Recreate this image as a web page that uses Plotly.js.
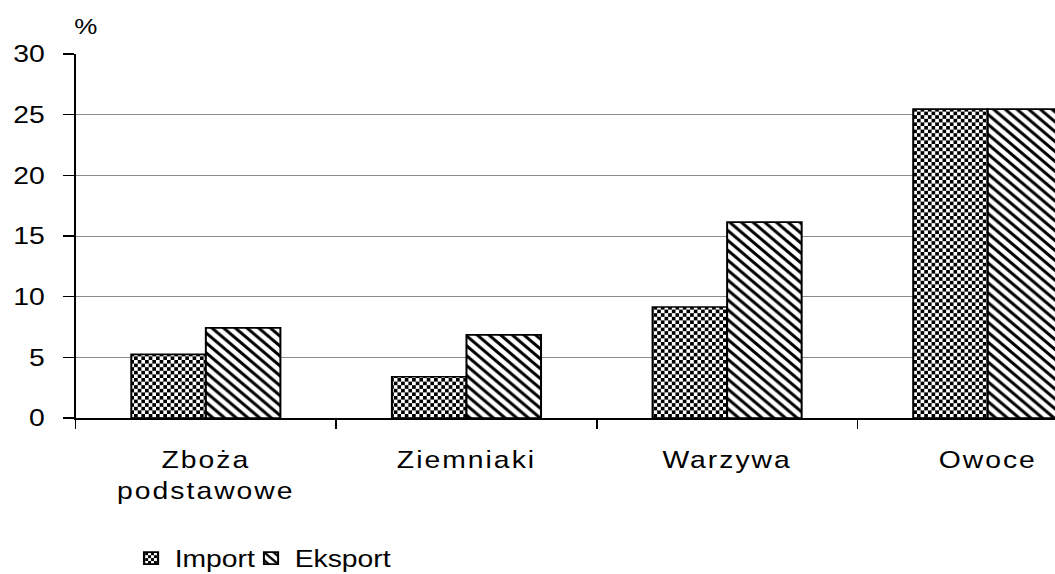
<!DOCTYPE html>
<html><head><meta charset="utf-8">
<script src="https://cdn.plot.ly/plotly-3.0.1.min.js"></script>
<style>
html,body{margin:0;padding:0;overflow:hidden;background:#fff}
#chart{width:894px;height:574px;transform:scaleX(1.18009);transform-origin:0 0}
#chart .xtick text{letter-spacing:1.7px}
</style>
</head><body><div id="chart"></div>
<script>
const categories = ['Zboża<br>podstawowe', 'Ziemniaki', 'Warzywa', 'Owoce'];
const importValues = [5.25, 3.4, 9.15, 25.45];
const eksportValues = [7.42, 6.85, 16.15, 25.45];
const seriesNames = ['Import', 'Eksport'];
const yTicks = [0, 5, 10, 15, 20, 25, 30];
const unitLabel = '%';

const FONT = 'Liberation Sans, Arial, sans-serif';

const traces = [
  {
    type: 'bar', name: seriesNames[0], x: categories, y: importValues, legend: 'legend',
    marker: {
      color: 'white',
      line: {color: 'black', width: 1.7},
      pattern: {shape: '.', fgcolor: 'black', bgcolor: 'white', size: 6, solidity: 0.5, fillmode: 'replace'}
    }
  },
  {
    type: 'bar', name: seriesNames[1], x: categories, y: eksportValues, legend: 'legend2',
    marker: {
      color: 'white',
      line: {color: 'black', width: 1.7},
      pattern: {shape: '\\', fgcolor: 'black', bgcolor: 'white', size: 7, solidity: 0.4, fillmode: 'replace'}
    }
  }
];

const legendBase = {orientation: 'h', xanchor: 'left', y: -0.386, yanchor: 'middle',
  font: {family: FONT, size: 24, color: 'black'}, bgcolor: 'rgba(0,0,0,0)'};

const layout = {
  width: 894, height: 574,
  margin: {l: 64.4, r: 0, t: 54, b: 156, autoexpand: false},
  paper_bgcolor: 'white', plot_bgcolor: 'white',
  font: {family: FONT, size: 24, color: 'black'},
  barmode: 'group', bargap: 0.428, bargroupgap: 0,
  showlegend: true,
  legend: Object.assign({}, legendBase, {x: 0.053}),
  legend2: Object.assign({}, legendBase, {x: 0.1755}),
  xaxis: {
    type: 'category', categoryorder: 'array', categoryarray: categories,
    range: [-0.5, 3.258], tickson: 'boundaries', ticks: 'outside', ticklen: 8.5,
    tickwidth: 1.5, tickcolor: 'black',
    showline: true, linecolor: 'black', linewidth: 2, showgrid: false, zeroline: false,
    tickfont: {family: FONT, size: 24, color: 'black'}, ticklabelstandoff: 19, fixedrange: true
  },
  yaxis: {
    range: [0, 30], tickvals: yTicks, ticktext: yTicks.map(String),
    ticks: 'outside', ticklen: 8.5, tickwidth: 1.5, tickcolor: 'black',
    showline: true, linecolor: 'black', linewidth: 1.7,
    showgrid: true, gridcolor: '#8a8a8a', gridwidth: 1, zeroline: false,
    tickfont: {family: FONT, size: 24, color: 'black'}, ticklabelstandoff: 11, fixedrange: true
  },
  annotations: [{
    text: unitLabel, xref: 'paper', yref: 'paper', x: 0, y: 1, xanchor: 'left', yanchor: 'middle',
    xshift: -3, yshift: 28, showarrow: false, font: {family: FONT, size: 22, color: 'black'}
  }]
};

function checkerize() {
  const NS = 'http://www.w3.org/2000/svg';
  document.querySelectorAll('pattern').forEach(p => {
    if (!p.querySelector('circle')) return;
    const w = 6.2, h = 7.2;
    p.setAttribute('width', w); p.setAttribute('height', h);
    while (p.firstChild) p.removeChild(p.firstChild);
    const mk = (x, y, ww, hh, fill) => {
      const r = document.createElementNS(NS, 'rect');
      r.setAttribute('x', x); r.setAttribute('y', y);
      r.setAttribute('width', ww); r.setAttribute('height', hh);
      r.setAttribute('fill', fill); p.appendChild(r);
    };
    mk(0, 0, w, h, 'white');
    mk(0, 0, w / 2, h / 2, 'black');
    mk(w / 2, h / 2, w / 2, h / 2, 'black');
  });
}

Plotly.newPlot('chart', traces, layout, {staticPlot: true, displayModeBar: false}).then(checkerize);
</script>
</body></html>
